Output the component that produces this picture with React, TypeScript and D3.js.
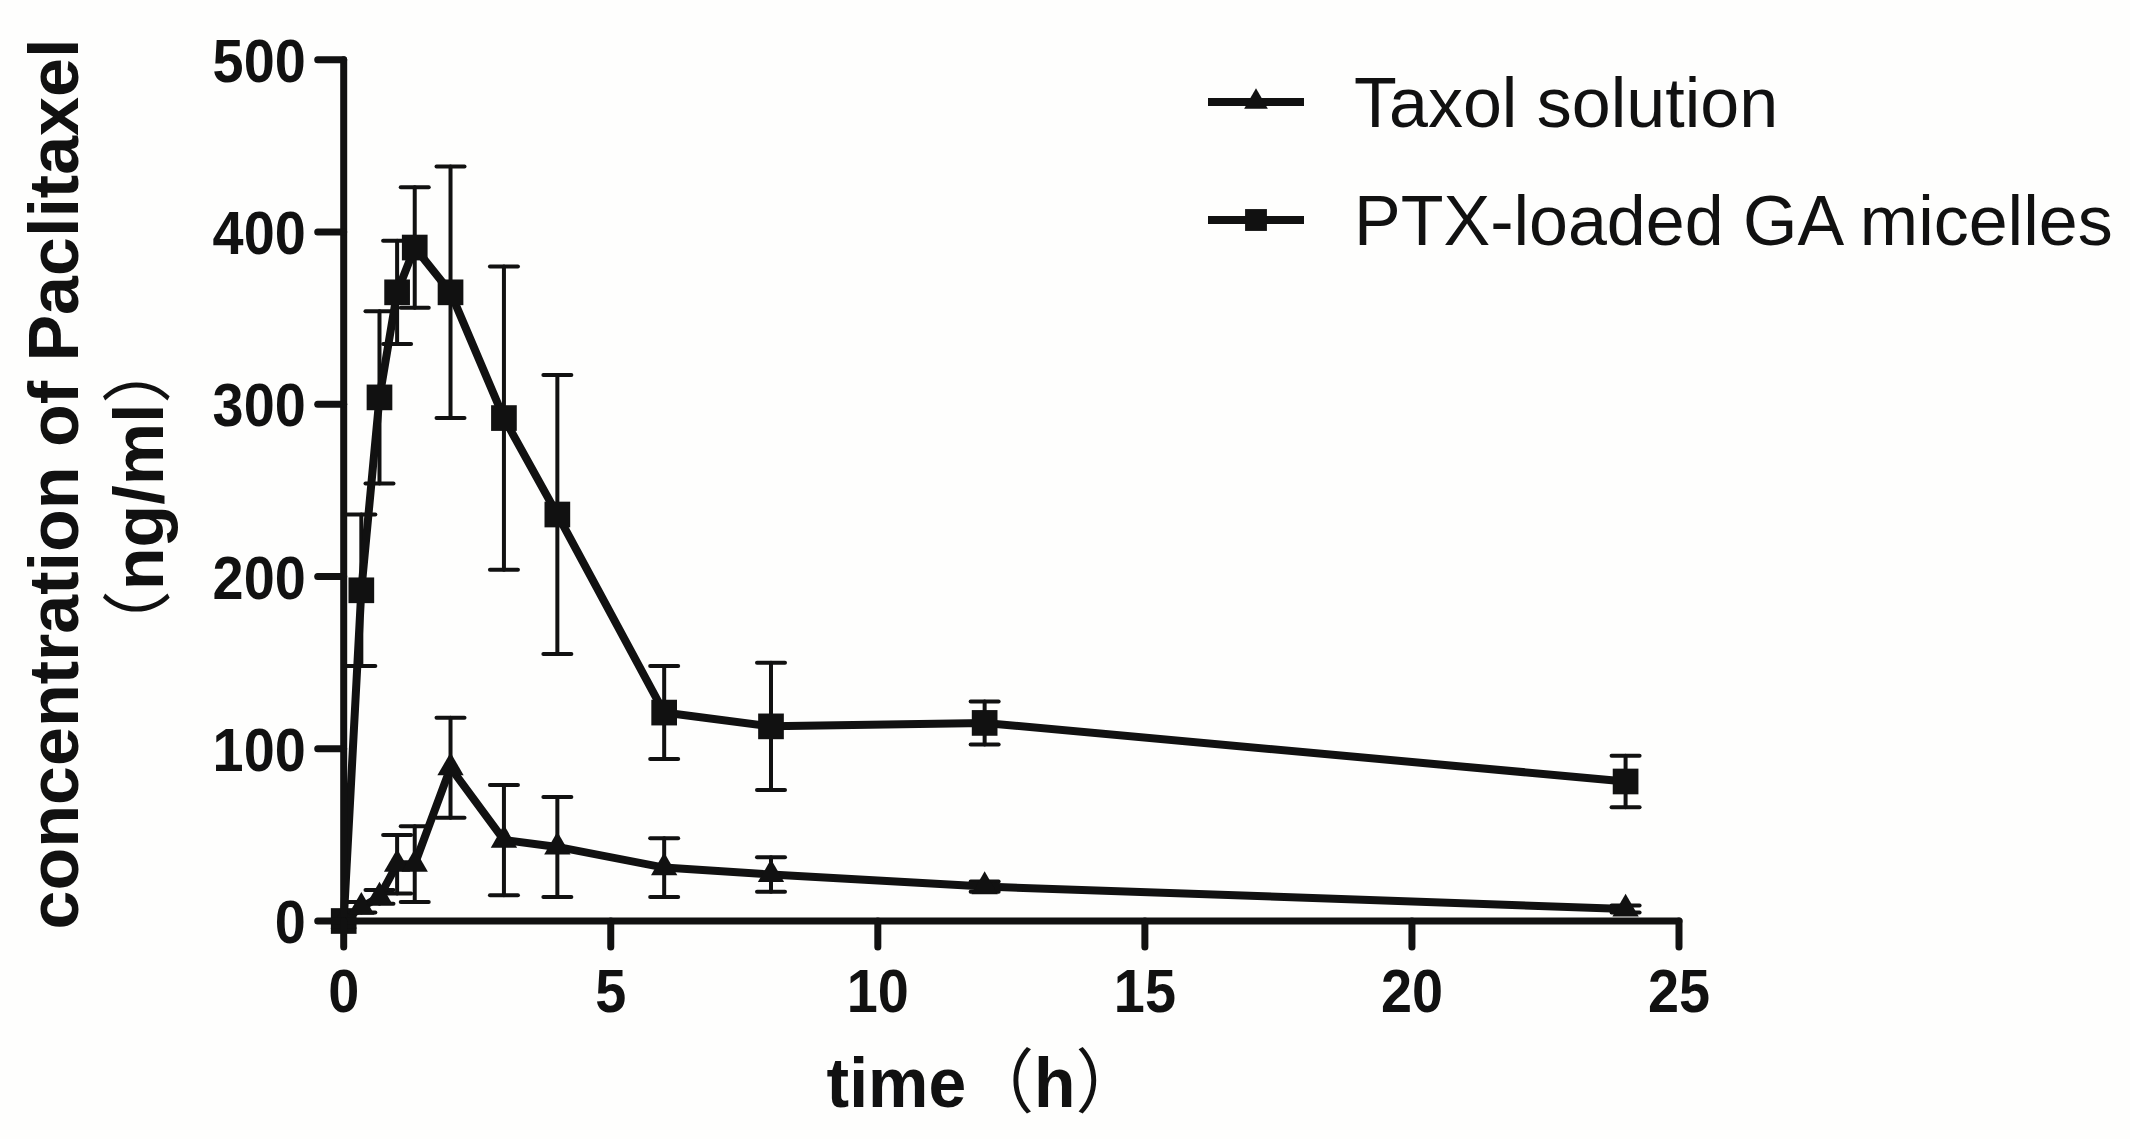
import React from "react";
import * as d3 from "d3";

const timePoints = [0, 0.33, 0.67, 1, 1.33, 2, 3, 4, 6, 8, 12, 24];
const taxolMean = [0, 8, 14, 33, 33, 89, 47, 43, 31, 27, 20, 7];
const taxolSD = [0, 3, 4, 17, 22, 29, 32, 29, 17, 10, 3, 2];
const micelleMean = [0, 192, 304, 365, 391, 365, 292, 236, 121, 113, 115, 81];
const micelleSD = [0, 44, 50, 30, 35, 73, 88, 81, 27, 37, 12.5, 15];
const xTicks = [0, 5, 10, 15, 20, 25];
const yTicks = [0, 100, 200, 300, 400, 500];
const seriesNames = ["Taxol solution", "PTX-loaded GA micelles"];

const W = 2130;
const H = 1139;
const FONT = "'Liberation Sans', Arial, 'Noto Sans CJK SC', sans-serif";
const CJK = "'Noto Sans CJK SC', sans-serif";
const INK = "#111";

export default function App() {
  const x = d3.scaleLinear().domain([0, 25]).range([343.7, 1679]);
  const y = d3.scaleLinear().domain([0, 500]).range([921, 59.8]);
  const line = d3
    .line<number>()
    .x((_, i) => x(timePoints[i]))
    .y((d) => y(d));

  const tri = d3.symbol().type(d3.symbolTriangle).size(300)();
  const sq = d3.symbol().type(d3.symbolSquare).size(660)();

  const errBars = (mean: number[], sd: number[], key: string) =>
    mean.map((m, i) => {
      if (sd[i] <= 0) return null;
      const cx = x(timePoints[i]);
      const y1 = y(m + sd[i]);
      const y2 = y(m - sd[i]);
      return (
        <g key={key + i} stroke={INK} strokeWidth={4} strokeLinecap="round">
          <line x1={cx} x2={cx} y1={y1} y2={y2} />
          <line x1={cx - 14} x2={cx + 14} y1={y1} y2={y1} />
          <line x1={cx - 14} x2={cx + 14} y1={y2} y2={y2} />
        </g>
      );
    });

  return (
    <svg
      width={W}
      height={H}
      viewBox={`0 0 ${W} ${H}`}
      style={{ position: "absolute", left: 0, top: 0, background: "#fefefd" }}
    >
      <rect x={0} y={0} width={W} height={H} fill="#fefefd" />
      {errBars(taxolMean, taxolSD, "t")}
      {errBars(micelleMean, micelleSD, "m")}
      <path d={line(micelleMean) || ""} fill="none" stroke={INK} strokeWidth={8} strokeLinejoin="miter" />
      <path d={line(taxolMean) || ""} fill="none" stroke={INK} strokeWidth={8} strokeLinejoin="miter" />
      {micelleMean.map((m, i) => (
        <path key={"ms" + i} d={sq || ""} transform={`translate(${x(timePoints[i])},${y(m)})`} fill={INK} />
      ))}
      {taxolMean.map((m, i) => (
        <path key={"ts" + i} d={tri || ""} transform={`translate(${x(timePoints[i])},${y(m)})`} fill={INK} />
      ))}
      <g stroke={INK} strokeWidth={7} strokeLinecap="round">
        <line x1={x(0)} x2={x(0)} y1={y(0)} y2={y(500)} />
        <line x1={x(0)} x2={x(25)} y1={y(0)} y2={y(0)} />
        {yTicks.map((t) => (
          <line key={"yt" + t} x1={x(0) - 26} x2={x(0)} y1={y(t)} y2={y(t)} />
        ))}
        {xTicks.map((t) => (
          <line key={"xt" + t} x1={x(t)} x2={x(t)} y1={y(0)} y2={y(0) + 26} />
        ))}
      </g>
      <g fontFamily={FONT} fontWeight="bold" fontSize={62} fill={INK}>
        {yTicks.map((t) => (
          <text key={"yl" + t} transform={`translate(${x(0) - 38},${y(t) + 22}) scale(0.9,1)`} textAnchor="end">
            {t}
          </text>
        ))}
        {xTicks.map((t) => (
          <text key={"xl" + t} transform={`translate(${x(t)},${1012}) scale(0.9,1)`} textAnchor="middle">
            {t}
          </text>
        ))}
      </g>
      <text
        transform="translate(985,1107) scale(0.97,1)"
        textAnchor="middle"
        fontFamily={FONT}
        fontWeight="bold"
        fontSize={70}
        fill={INK}
      >
        time
        <tspan fontFamily={CJK} fontWeight="normal">（</tspan>
        h
        <tspan fontFamily={CJK} fontWeight="normal">）</tspan>
      </text>
      <text
        transform="translate(78,484) rotate(-90)"
        textAnchor="middle"
        fontFamily={FONT}
        fontWeight="bold"
        fontSize={70}
        fill={INK}
      >
        concentration of Paclitaxel
      </text>
      <text
        transform="translate(163,497) rotate(-90)"
        textAnchor="middle"
        fontFamily={FONT}
        fontWeight="bold"
        fontSize={70}
        fill={INK}
      >
        <tspan fontFamily={CJK} fontWeight="normal">（</tspan>
        ng/ml
        <tspan fontFamily={CJK} fontWeight="normal">）</tspan>
      </text>
      {seriesNames.map((name, i) => {
        const ly = 102 + i * 118;
        return (
          <g key={"lg" + i}>
            <line x1={1208} x2={1304} y1={ly} y2={ly} stroke={INK} strokeWidth={8} />
            <path d={(i === 0 ? tri : sq) || ""} transform={`translate(1256,${ly}) scale(${i === 0 ? 0.9 : 0.85})`} fill={INK} />
            <text x={1354} y={ly + 25} fontFamily={FONT} fontSize={70} fill={INK}>
              {name}
            </text>
          </g>
        );
      })}
    </svg>
  );
}
